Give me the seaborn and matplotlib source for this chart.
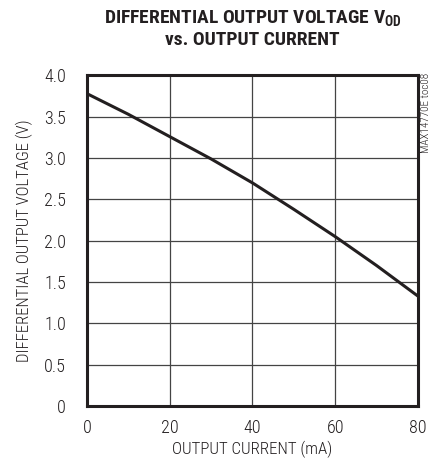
import numpy as np
import pandas as pd
import seaborn as sns
import matplotlib.pyplot as plt

# courbe
courant_ma = [0, 10, 20, 30, 40, 50, 60, 70, 80]
tension_v = [3.78, 3.53, 3.26, 2.99, 2.70, 2.38, 2.05, 1.70, 1.33]
x_ticks = [0, 20, 40, 60, 80]
y_ticks = [0, 0.5, 1.0, 1.5, 2.0, 2.5, 3.0, 3.5, 4.0]
y_labels = ["0", "0.5", "1.0", "1.5", "2.0", "2.5", "3.0", "3.5", "4.0"]

sns.set_style("white")
plt.rcParams["font.family"] = ["Roboto Condensed", "Liberation Sans Narrow", "Roboto", "DejaVu Sans"]

df = pd.DataFrame({"I": courant_ma, "V": tension_v})

fig = plt.figure(figsize=(4.3, 4.63), dpi=100)
ax = fig.add_axes([0.2023, 0.123, 0.7697, 0.714])
sns.lineplot(data=df, x="I", y="V", color="#231f20", linewidth=2.2, ax=ax)

ax.set_xlim(0, 80)
ax.set_ylim(0, 4.0)
ax.set_xticks(x_ticks)
ax.set_yticks(y_ticks)
ax.set_yticklabels(y_labels)
ax.tick_params(length=0, labelsize=13, colors="#231f20")
ax.tick_params(axis="y", pad=15)
ax.tick_params(axis="x", pad=9)
for lab in ax.get_xticklabels() + ax.get_yticklabels():
    lab.set_fontweight("light")
ax.grid(True, color="#444444", linewidth=0.9)
for s in ax.spines.values():
    s.set_visible(True)
    s.set_color("#231f20")
    s.set_linewidth(2.2)

ax.set_xlabel("OUTPUT CURRENT (mA)", fontsize=12.2, color="#231f20", labelpad=3, fontweight="light")
ax.set_ylabel("DIFFERENTIAL OUTPUT VOLTAGE (V)", fontsize=12, color="#231f20", labelpad=8, fontweight="light")

fig.text(0.587, 0.962, r"DIFFERENTIAL OUTPUT VOLTAGE V$\mathregular{_{OD}}$",
         ha="center", va="center", fontsize=14, fontweight="bold", color="#231f20")
fig.text(0.587, 0.913, "vs. OUTPUT CURRENT",
         ha="center", va="center", fontsize=14, fontweight="bold", color="#231f20")
fig.text(0.99, 0.843, "MAX14770E toc08", rotation=90, ha="center", va="top",
         fontsize=8, color="#231f20", fontweight="light")

fig.savefig("out.png", dpi=100)
